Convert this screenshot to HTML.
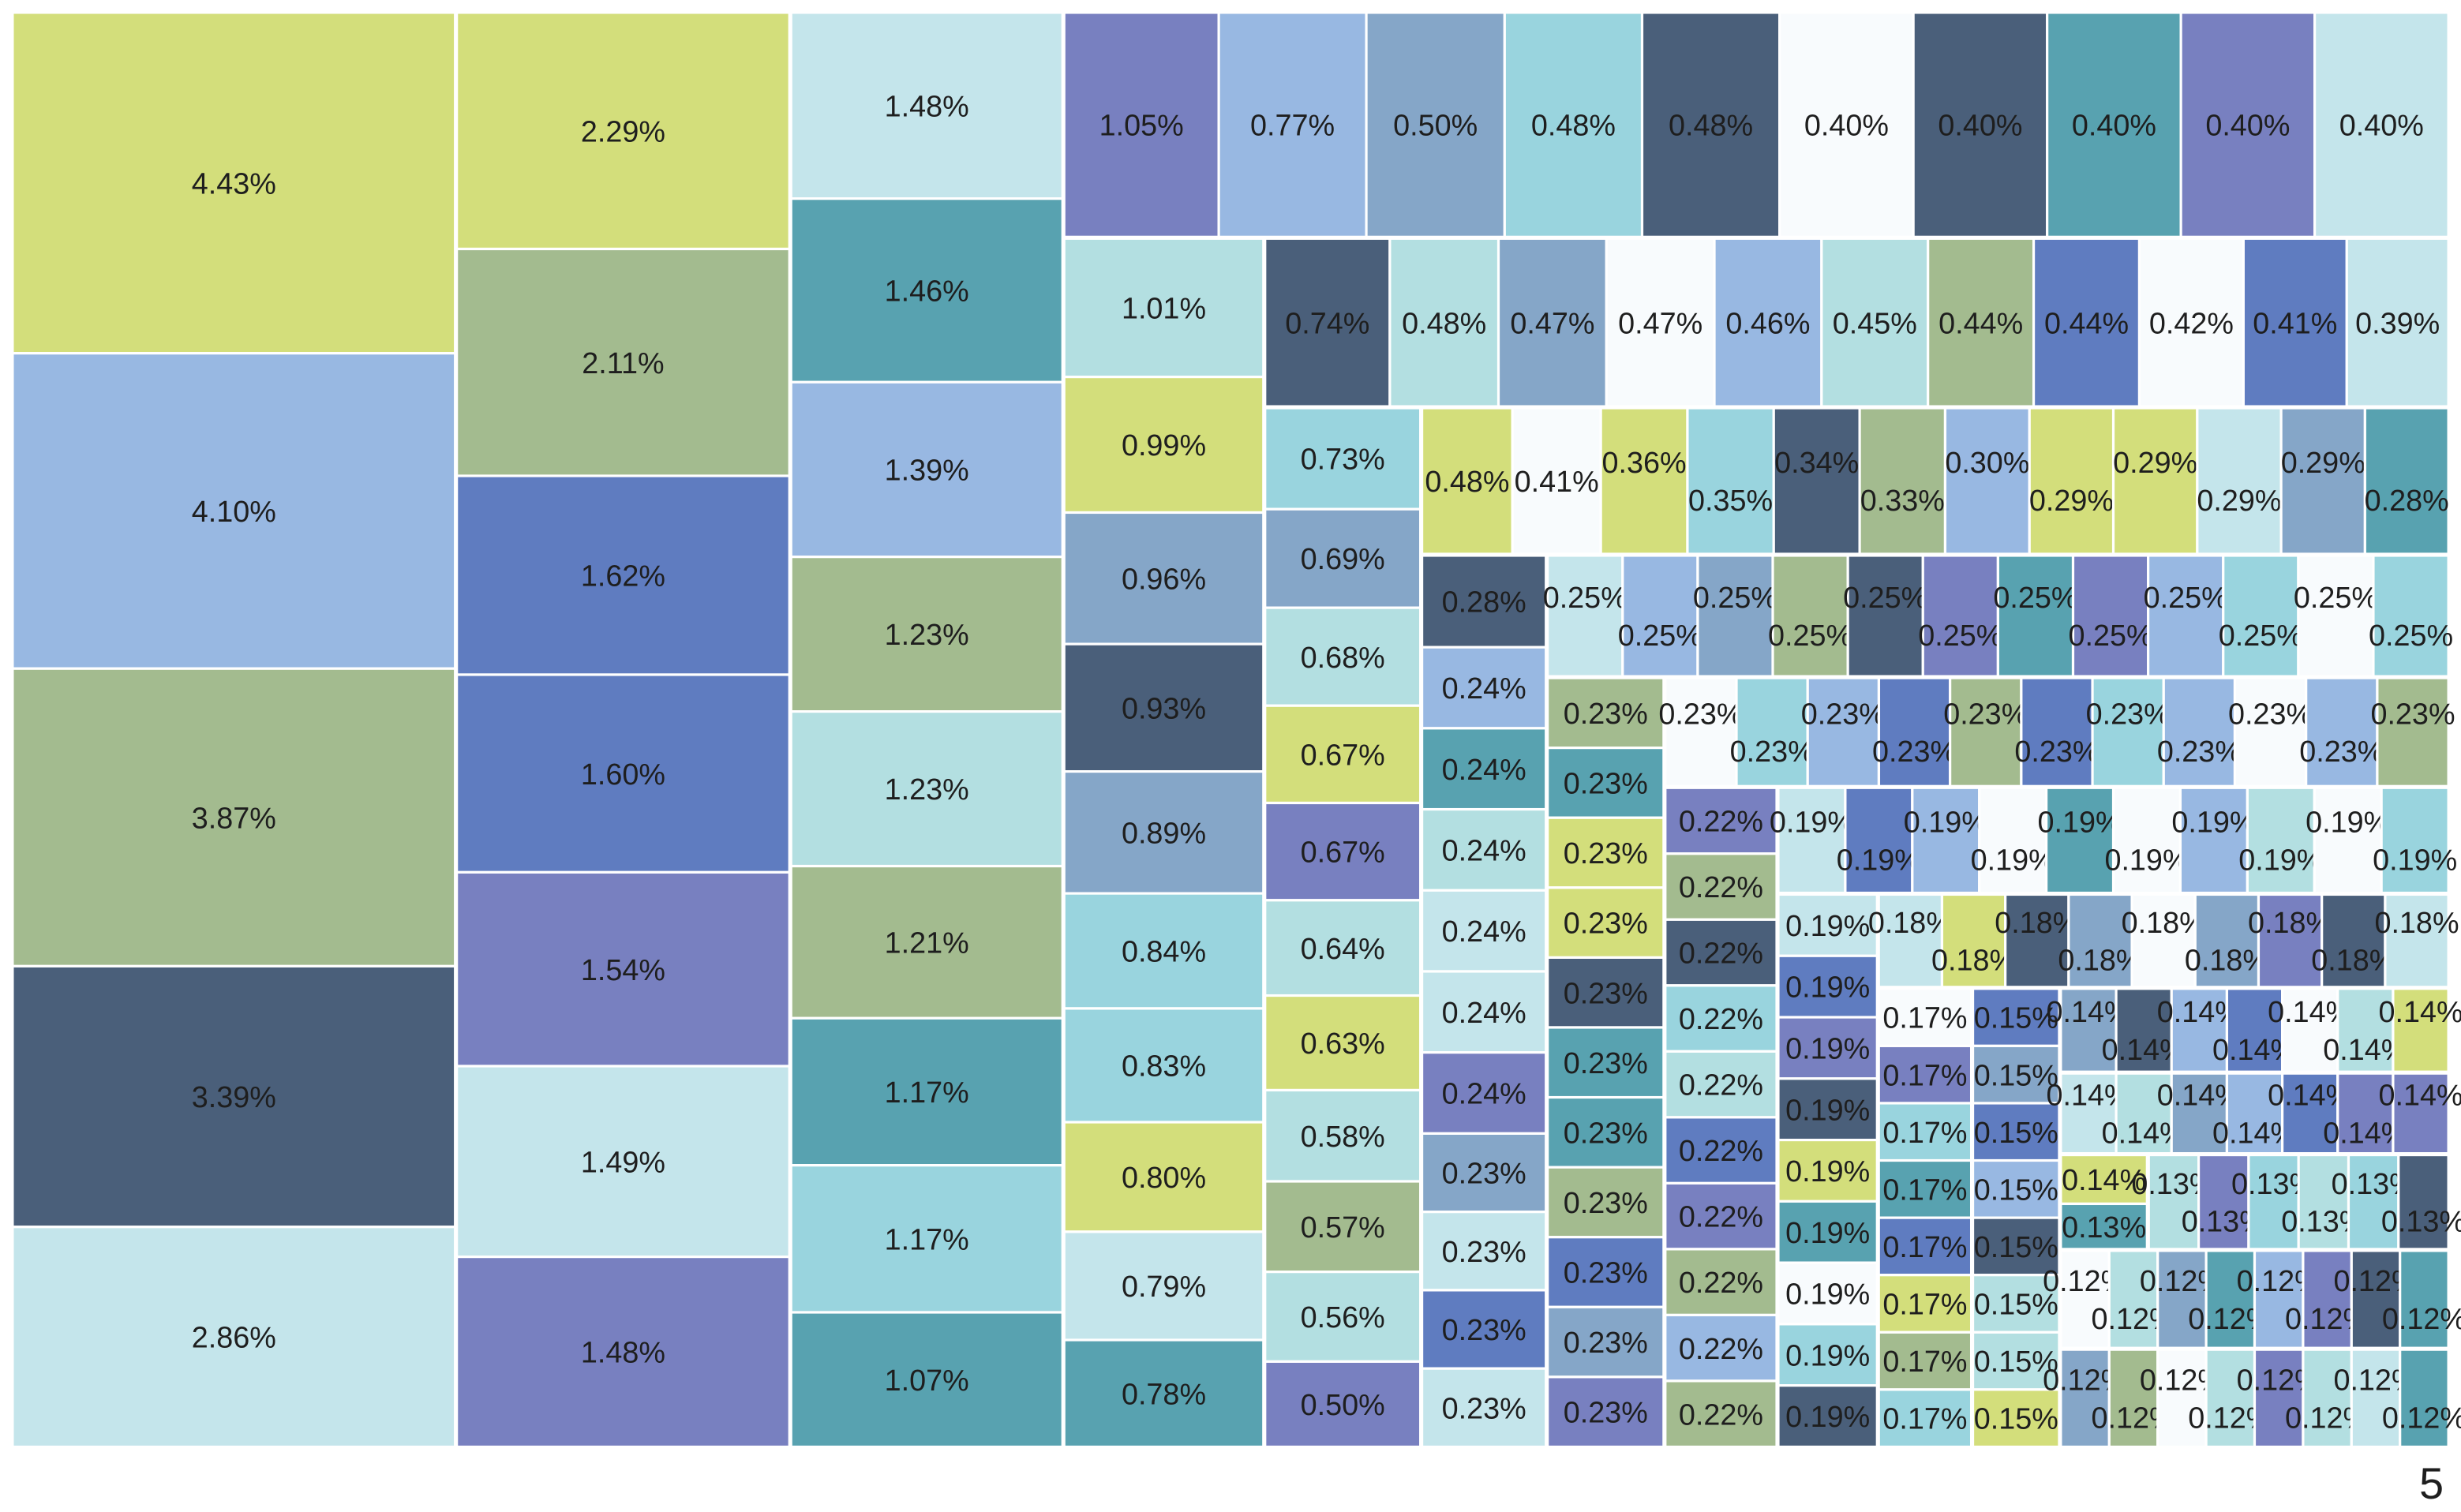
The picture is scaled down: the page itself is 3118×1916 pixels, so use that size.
<!DOCTYPE html>
<html><head><meta charset="utf-8">
<style>
html,body{margin:0;padding:0;background:#fff;}
svg{display:block;}
text{font-family:"Liberation Sans",sans-serif;fill:#1e1e1e;}
</style></head>
<body>
<svg id="chart" width="3118" height="1916" viewBox="0 0 1568 963.5" xmlns="http://www.w3.org/2000/svg">
<rect x="0" y="0" width="1568" height="963.5" fill="#ffffff"/>
<g id="cells"></g>
<text x="1557" y="955" font-size="28" text-anchor="end">5</text>
</svg>
<script>
// ---- data: values (percent shares) and color keys per group ----
const col1Values = [4.43, 4.10, 3.87, 3.39, 2.86];
const col1Colors = ['L','B','S','D','P'];
const col2Values = [2.29, 2.11, 1.62, 1.60, 1.54, 1.49, 1.48];
const col2Colors = ['L','S','R','R','V','P','V'];
const col3Values = [1.48, 1.46, 1.39, 1.23, 1.23, 1.21, 1.17, 1.17, 1.07];
const col3Colors = ['P','T','B','S','Q','S','T','A','T'];
const topRowValues = [1.05, 0.77, 0.50, 0.48, 0.48, 0.40, 0.40, 0.40, 0.40, 0.40];
const topRowColors = ['V','B','G','A','D','W','D','T','V','P'];
const col4Values = [1.01, 0.99, 0.96, 0.93, 0.89, 0.84, 0.83, 0.80, 0.79, 0.78];
const col4Colors = ['Q','L','G','D','G','A','A','L','P','T'];
const row2Values = [0.74, 0.48, 0.47, 0.47, 0.46, 0.45, 0.44, 0.44, 0.42, 0.41, 0.39];
const row2Colors = ['D','Q','G','W','B','Q','S','R','W','R','P'];
const col5Values = [0.73, 0.69, 0.68, 0.67, 0.67, 0.64, 0.63, 0.58, 0.57, 0.56, 0.50];
const col5Colors = ['A','G','Q','L','V','Q','L','Q','S','Q','V'];
const row3Values = [0.48, 0.41, 0.36, 0.35, 0.34, 0.33, 0.30, 0.29, 0.29, 0.29, 0.29, 0.28];
const row3Colors = ['L','W','L','A','D','S','B','L','L','P','G','T'];
const col6Values = [0.28, 0.24, 0.24, 0.24, 0.24, 0.24, 0.24, 0.23, 0.23, 0.23, 0.23];
const col6Colors = ['D','B','T','Q','P','P','V','G','P','R','P'];
const row4Values = [0.25, 0.25, 0.25, 0.25, 0.25, 0.25, 0.25, 0.25, 0.25, 0.25, 0.25, 0.25];
const row4Colors = ['P','B','G','S','D','V','T','V','B','A','W','A'];
const col7Values = [0.23, 0.23, 0.23, 0.23, 0.23, 0.23, 0.23, 0.23, 0.23, 0.23, 0.23];
const col7Colors = ['S','T','L','L','D','T','T','S','R','G','V'];
const row5Values = [0.23, 0.23, 0.23, 0.23, 0.23, 0.23, 0.23, 0.23, 0.23, 0.23, 0.23];
const row5Colors = ['W','A','B','R','S','R','A','B','W','B','S'];
const col8Values = [0.22, 0.22, 0.22, 0.22, 0.22, 0.22, 0.22, 0.22, 0.22, 0.22];
const col8Colors = ['V','S','D','A','Q','R','V','S','B','S'];
const row6Values = [0.19, 0.19, 0.19, 0.19, 0.19, 0.19, 0.19, 0.19, 0.19, 0.19];
const row6Colors = ['P','R','B','W','T','W','B','Q','W','A'];
const col9Values = [0.19, 0.19, 0.19, 0.19, 0.19, 0.19, 0.19, 0.19, 0.19];
const col9Colors = ['P','R','V','D','L','T','W','A','D'];
const row7Values = [0.18, 0.18, 0.18, 0.18, 0.18, 0.18, 0.18, 0.18, 0.18];
const row7Colors = ['P','L','D','G','W','G','V','D','P'];
const col10Values = [0.17, 0.17, 0.17, 0.17, 0.17, 0.17, 0.17, 0.17];
const col10Colors = ['W','V','A','T','R','L','S','A'];
const col11Values = [0.15, 0.15, 0.15, 0.15, 0.15, 0.15, 0.15, 0.15];
const col11Colors = ['R','G','R','B','D','Q','Q','L'];
const row8aValues = [0.14, 0.14, 0.14, 0.14, 0.14, 0.14, 0.14];
const row8aColors = ['G','D','B','R','W','Q','L'];
const row8bValues = [0.14, 0.14, 0.14, 0.14, 0.14, 0.14, 0.14];
const row8bColors = ['P','Q','G','B','R','V','V'];
const col12Values = [0.14, 0.13];
const col12Colors = ['L','T'];
const row9Values = [0.13, 0.13, 0.13, 0.13, 0.13, 0.13];
const row9Colors = ['Q','V','A','Q','A','D'];
const row10Values = [0.12, 0.12, 0.12, 0.12, 0.12, 0.12, 0.12, 0.12];
const row10Colors = ['W','Q','G','T','B','V','D','T'];
const row11Values = [0.12, 0.12, 0.12, 0.12, 0.12, 0.12, 0.12, 0.12];
const row11Colors = ['G','S','W','Q','V','Q','P','T'];

// ---- styling ----
const palette = {L:'#d3de7b',B:'#98b8e2',S:'#a3bb8f',D:'#4a5f7a',P:'#c4e5eb',T:'#58a2b0',
  V:'#7880c0',R:'#5f7cc0',G:'#85a6c8',A:'#99d4de',Q:'#b3dfe1',W:'#f8fbfd'};

// group boxes (layout only): name, values, colors, x0, y0, x1, y1, direction, size exponent
const groups = [
 ['col-1', col1Values, col1Colors, 8, 8, 290, 922, 'v', 1],
 ['col-2', col2Values, col2Colors, 291, 8, 503, 922, 'v', 0.5],
 ['col-3', col3Values, col3Colors, 504, 8, 677, 922, 'v', 1],
 ['top-row', topRowValues, topRowColors, 678, 8, 1560, 151, 'h', 0.15],
 ['col-4', col4Values, col4Colors, 678, 152, 805, 922, 'v', 1],
 ['row-2', row2Values, row2Colors, 806, 152, 1560, 259, 'h', 0.32],
 ['col-5', col5Values, col5Colors, 806, 260, 905, 922, 'v', 0.45],
 ['row-3', row3Values, row3Colors, 906, 260, 1560, 353, 'h', 0.15],
 ['col-6', col6Values, col6Colors, 906, 354, 985, 922, 'v', 0.8],
 ['row-4', row4Values, row4Colors, 986, 354, 1560, 431, 'h', 1],
 ['col-7', col7Values, col7Colors, 986, 432, 1060, 922, 'v', 1],
 ['row-5', row5Values, row5Colors, 1061, 432, 1560, 501, 'h', 1],
 ['col-8', col8Values, col8Colors, 1061, 502, 1132, 922, 'v', 1],
 ['row-6', row6Values, row6Colors, 1133, 502, 1560, 569, 'h', 1],
 ['col-9', col9Values, col9Colors, 1133, 570, 1196, 922, 'v', 1],
 ['row-7', row7Values, row7Colors, 1197, 570, 1560, 629, 'h', 1],
 ['col-10', col10Values, col10Colors, 1197, 630, 1256, 922, 'v', 1],
 ['col-11', col11Values, col11Colors, 1257, 630, 1312, 922, 'v', 1],
 ['row-8a', row8aValues, row8aColors, 1313, 630, 1560, 683, 'h', 1],
 ['row-8b', row8bValues, row8bColors, 1313, 684, 1560, 735, 'h', 1],
 ['col-12', col12Values, col12Colors, 1313, 736, 1368, 796, 'v', 1],
 ['row-9', row9Values, row9Colors, 1369, 736, 1560, 796, 'h', 1],
 ['row-10', row10Values, row10Colors, 1313, 797, 1560, 859, 'h', 1],
 ['row-11', row11Values, row11Colors, 1313, 860, 1560, 922, 'h', 1]
];

const NS = 'http://www.w3.org/2000/svg';
const root = document.getElementById('cells');
const FS = 19;
function textWidth(s){ let w=0; for(const c of s){ w += c==='.'?0.28:(c==='%'?0.89:0.556); } return w*FS; }

// scale: maps a cumulative size within a group to a pixel position
function makeScale(total, p0, p1){ return v => p0 + (v/total)*(p1-p0); }

groups.forEach(g => {
  const [name, vals, cols, x0, y0, x1, y1, dir, ex] = g;
  const sizes = vals.map(v => Math.pow(v, ex));
  const total = sizes.reduce((a,b)=>a+b,0);
  const sc = dir==='v' ? makeScale(total, y0, y1) : makeScale(total, x0, x1);
  let cum = 0;
  let flip = 0;
  vals.forEach((v, i) => {
    const a = sc(cum), b = sc(cum + sizes[i]);
    cum += sizes[i];
    const x = dir==='v' ? x0 : a, y = dir==='v' ? a : y0;
    const w = dir==='v' ? x1 - x0 : b - a, h = dir==='v' ? b - a : y1 - y0;
    const r = document.createElementNS(NS,'rect');
    r.setAttribute('x', x); r.setAttribute('y', y);
    r.setAttribute('width', Math.max(0,w)); r.setAttribute('height', Math.max(0,h));
    r.setAttribute('fill', palette[cols[i]] || '#cccccc');
    r.setAttribute('stroke', '#ffffff'); r.setAttribute('stroke-width', '1.6');
    
    
    root.appendChild(r);
    const label = v.toFixed(2) + '%';
    let dy = 0;
    if (dir==='h' && textWidth(label) > w - 2 && h > 40) { dy = (flip % 2 === 0) ? -12 : 12; flip++; }
    const t = document.createElementNS(NS,'text');
    t.setAttribute('x', x + w/2); t.setAttribute('y', y + h/2 + dy + FS*0.36);
    t.setAttribute('font-size', FS); t.setAttribute('text-anchor', 'middle');
    t.textContent = label;
    
    
    root.appendChild(t);
  });
});
</script>
</body></html>
